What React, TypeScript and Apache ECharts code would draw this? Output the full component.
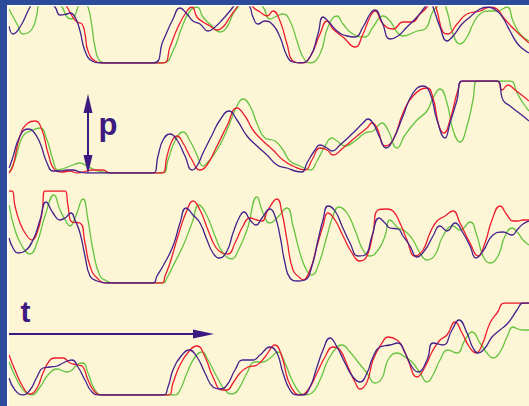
import React, { useEffect, useRef } from "react";
import * as echarts from "echarts";

// Each point: [time, pressure]; rows are four separate recordings.
const row1Purple = [[9,37],[13,29],[20,36],[30,56],[40,72],[55,56],[60,48],[67,49],[70,50],[75,46],[80,32],[85,12],[92,2],[100,0],[153,0],[163,22],[173,44],[180,55],[187,49],[193,42],[200,39],[208,32],[215,36],[223,44],[233,56],[242,70],[250,56],[253,46],[258,39],[265,42],[273,38],[280,26],[287,7],[293,1],[300,0],[310,6],[318,29],[323,46],[328,42],[337,32],[347,27],[355,26],[363,36],[370,49],[375,53],[382,41],[390,24],[398,27],[407,36],[417,46],[425,56],[430,62],[433,56],[440,36],[447,22],[453,27],[462,39],[470,46],[480,54],[488,56],[497,52],[503,45],[510,32],[517,20],[523,14],[529,10]];
const row1Red = [[9,66],[25,85],[45,80],[60,65],[67,56],[72,47],[77,41],[82,39],[85,29],[88,12],[95,2],[103,0],[163,0],[170,16],[178,36],[187,52],[192,56],[197,46],[203,41],[210,37],[217,33],[223,36],[230,46],[237,56],[245,68],[253,56],[260,51],[267,47],[273,52],[280,42],[287,19],[293,2],[302,0],[310,6],[320,29],[327,42],[333,34],[343,26],[355,16],[363,29],[370,46],[375,52],[383,39],[393,34],[403,41],[412,41],[420,49],[427,56],[432,65],[437,52],[443,31],[448,29],[457,39],[467,49],[480,52],[490,56],[497,54],[503,46],[510,38],[518,30],[529,20]];
const row1Green = [[9,54],[17,39],[23,29],[32,34],[37,49],[38,56],[48,72],[62,56],[67,46],[72,44],[76,50],[78,56],[83,62],[88,56],[92,36],[95,16],[100,2],[107,0],[163,0],[173,12],[182,36],[190,52],[197,56],[203,46],[210,39],[220,31],[227,36],[233,49],[238,56],[250,68],[263,56],[270,44],[277,47],[283,49],[290,42],[297,22],[303,6],[310,0],[320,9],[328,36],[337,47],[343,39],[353,29],[365,26],[373,36],[383,47],[390,42],[397,31],[403,27],[417,32],[425,34],[433,52],[437,56],[442,62],[447,52],[453,29],[460,19],[467,26],[473,39],[480,49],[490,52],[497,52],[507,56],[513,42],[520,29],[529,22]];

const row2Purple = [[9,5],[12,13],[20,37],[28,44],[33,42],[40,30],[47,10],[53,2],[60,2],[67,3],[73,3],[80,1],[87,0],[153,0],[158,17],[163,33],[170,39],[177,33],[185,17],[192,3],[197,7],[203,20],[213,40],[220,53],[229,62],[237,53],[247,37],[257,27],[267,18],[277,8],[287,5],[295,2],[302,1],[307,10],[315,23],[320,28],[327,25],[332,22],[340,28],[353,40],[363,50],[368,54],[373,50],[380,35],[386,25],[393,33],[403,57],[413,80],[423,87],[430,80],[437,53],[445,35],[450,50],[457,73],[462,92],[497,92],[503,73],[510,67],[523,57],[529,52]];
const row2Red = [[9,0],[13,7],[20,37],[28,50],[35,52],[42,43],[48,20],[55,3],[62,1],[70,2],[77,0],[93,3],[103,3],[110,0],[162,0],[167,17],[172,32],[177,37],[183,30],[192,13],[200,3],[207,8],[217,27],[227,47],[237,65],[245,57],[253,43],[263,32],[273,23],[283,13],[293,7],[305,3],[312,13],[320,25],[327,23],[333,18],[343,25],[357,37],[367,45],[372,50],[377,45],[385,27],[393,33],[403,60],[413,77],[427,85],[433,75],[439,47],[444,40],[450,53],[458,83],[463,92],[497,92],[502,83],[508,88],[515,83],[523,77],[529,72]];
const row2Green = [[9,0],[15,13],[23,37],[33,43],[40,45],[47,33],[53,13],[58,3],[65,5],[73,8],[80,10],[87,7],[95,3],[103,1],[110,0],[163,0],[168,13],[175,32],[183,41],[190,32],[197,18],[203,7],[207,10],[217,23],[227,43],[237,67],[243,74],[250,67],[258,47],[265,35],[275,32],[283,23],[290,12],[300,7],[310,3],[317,12],[325,27],[332,35],[337,32],[345,27],[355,32],[365,40],[373,42],[382,50],[388,43],[397,25],[405,38],[417,53],[427,62],[433,75],[440,84],[447,70],[453,43],[460,31],[467,47],[473,73],[477,92],[510,92],[517,80],[523,70],[529,62]];

const row3Purple = [[9,45],[13,35],[18,30],[25,32],[33,43],[40,63],[46,81],[53,70],[60,63],[65,65],[71,70],[75,63],[80,50],[85,27],[90,7],[97,2],[107,0],[153,0],[157,7],[163,17],[173,37],[180,60],[186,75],[193,68],[200,60],[207,43],[213,30],[219,25],[227,32],[233,50],[240,67],[244,71],[250,63],[256,58],[262,65],[270,74],[275,67],[280,47],[285,20],[290,5],[298,2],[305,3],[312,17],[318,43],[323,63],[328,77],[335,72],[342,57],[350,40],[358,27],[365,28],[372,47],[379,65],[385,60],[390,55],[398,54],[403,47],[410,37],[417,26],[425,33],[433,47],[440,57],[447,52],[455,60],[463,50],[470,37],[476,25],[483,32],[493,48],[503,51],[512,48],[517,53],[523,59],[529,62]];
const row3Red = [[9,92],[12,92],[15,77],[20,60],[27,47],[32,43],[37,50],[42,70],[45,92],[65,92],[68,77],[72,61],[80,60],[85,40],[90,17],[97,5],[107,0],[162,0],[165,7],[170,20],[178,47],[187,73],[193,82],[200,73],[208,53],[215,37],[222,30],[228,29],[235,40],[243,57],[250,65],[257,63],[262,62],[268,73],[277,84],[282,70],[287,43],[293,13],[300,5],[303,3],[310,13],[317,37],[323,57],[328,70],[335,63],[343,47],[352,30],[360,22],[367,27],[373,50],[378,73],[387,74],[393,72],[400,60],[407,43],[415,27],[423,33],[430,50],[437,62],[445,67],[453,72],[460,60],[470,40],[478,27],[485,40],[492,63],[500,77],[507,68],[513,62],[518,62],[523,63],[529,63]];
const row3Green = [[9,78],[15,53],[22,37],[30,29],[37,40],[45,67],[54,88],[60,73],[67,60],[70,57],[75,65],[83,84],[88,63],[93,33],[100,7],[107,2],[113,0],[163,0],[167,5],[173,17],[183,37],[192,60],[199,78],[207,67],[215,47],[223,30],[232,24],[238,32],[247,53],[257,86],[263,70],[270,60],[277,65],[287,75],[293,57],[300,30],[307,12],[312,8],[318,17],[327,47],[333,67],[339,76],[347,70],[355,53],[363,33],[370,27],[378,33],[385,47],[390,63],[398,55],[405,52],[413,43],[420,30],[427,23],[435,28],[443,47],[453,57],[460,53],[470,61],[477,47],[483,27],[490,20],[498,27],[505,47],[512,55],[518,50],[523,43],[529,38]];

const row4Purple = [[9,17],[15,5],[23,0],[30,5],[37,18],[43,27],[50,28],[57,29],[63,32],[72,35],[78,28],[85,15],[92,3],[100,0],[163,0],[168,8],[173,25],[182,40],[189,45],[197,38],[205,22],[213,8],[220,6],[227,10],[235,25],[243,35],[253,35],[260,40],[270,48],[277,42],[283,22],[290,5],[297,0],[303,0],[310,8],[317,28],[323,45],[330,57],[337,48],[345,32],[353,18],[360,13],[367,22],[373,38],[380,48],[390,50],[398,52],[405,42],[412,28],[418,23],[427,35],[433,52],[443,50],[452,65],[459,75],[467,62],[473,47],[478,42],[485,47],[492,58],[500,65],[508,72],[517,85],[523,92],[529,92]];
const row4Red = [[9,40],[15,25],[23,8],[30,1],[37,7],[43,22],[50,35],[55,37],[63,37],[70,32],[78,30],[83,28],[88,15],[95,3],[103,0],[168,0],[173,12],[180,30],[190,45],[197,49],[205,38],[213,18],[222,5],[227,5],[233,12],[240,22],[248,28],[257,30],[265,38],[275,50],[282,38],[288,15],[295,2],[300,0],[308,5],[317,22],[325,38],[333,48],[340,45],[348,28],[355,13],[360,6],[367,13],[373,35],[382,52],[388,58],[397,55],[403,47],[408,35],[417,18],[425,28],[432,43],[440,55],[447,60],[455,73],[462,62],[470,47],[476,42],[482,50],[490,72],[497,82],[505,92],[529,92]];
const row4Green = [[9,33],[17,15],[25,3],[32,0],[40,8],[48,20],[57,26],[67,23],[72,25],[78,31],[83,32],[88,22],[95,5],[102,0],[110,0],[175,0],[180,5],[187,22],[195,38],[202,43],[208,35],[217,18],[225,5],[232,1],[238,5],[247,22],[255,33],[263,33],[270,37],[278,43],[285,32],[292,15],[300,2],[305,0],[312,2],[320,15],[328,35],[337,48],[342,50],[350,43],[358,33],[367,22],[375,12],[382,17],[388,35],[397,42],[405,38],[412,33],[420,22],[427,13],[433,20],[440,35],[448,45],[457,42],[465,55],[472,63],[480,52],[487,42],[493,37],[500,43],[507,58],[513,68],[518,66],[523,65],[529,65]];

const PURPLE = "#44218c";
const RED = "#ec1c2e";
const GREEN = "#66c340";
const INK = "#3c1a80";
const FRAME = "#2d4b9b";
const BG = "#fdf6d6";

export default function App() {
  const ref = useRef<HTMLDivElement>(null);
  useEffect(() => {
    const chart = echarts.init(ref.current!, undefined, { renderer: "svg" });
    const rows = [
      { top: 6, height: 57, max: 57, data: [row1Green, row1Red, row1Purple] },
      { top: 81, height: 92, max: 92, data: [row2Green, row2Red, row2Purple] },
      { top: 191, height: 92, max: 92, data: [row3Green, row3Red, row3Purple] },
      { top: 303, height: 92, max: 92, data: [row4Green, row4Red, row4Purple] },
    ];
    const colors = [GREEN, RED, PURPLE];
    const series: any[] = [];
    rows.forEach((r, i) => {
      r.data.forEach((d, j) => {
        series.push({
          type: "line",
          xAxisIndex: i,
          yAxisIndex: i,
          data: d,
          smooth: 0.5,
          symbol: "none",
          clip: true,
          lineStyle: { color: colors[j], width: 1.3 },
          z: 2 + j,
        });
      });
    });
    chart.setOption({
      animation: false,
      backgroundColor: BG,
      grid: rows.map((r) => ({ left: 0, right: 0, top: r.top, height: r.height })),
      xAxis: rows.map((_, i) => ({ type: "value", gridIndex: i, min: 0, max: 529, show: false })),
      yAxis: rows.map((r, i) => ({ type: "value", gridIndex: i, min: 0, max: r.max, show: false })),
      series,
      graphic: [
        { type: "rect", z: 100, shape: { x: 0, y: 0, width: 7, height: 406 }, style: { fill: FRAME } },
        { type: "rect", z: 100, shape: { x: 0, y: 0, width: 529, height: 5 }, style: { fill: FRAME } },
        { type: "rect", z: 100, shape: { x: 7, y: 5, width: 1.5, height: 401 }, style: { fill: "#ffffff" } },
        { type: "rect", z: 100, shape: { x: 7, y: 5, width: 522, height: 1.3 }, style: { fill: "#ffffff" } },
        { type: "line", z: 100, shape: { x1: 88, y1: 110, x2: 88, y2: 158 }, style: { stroke: INK, lineWidth: 2 } },
        { type: "polygon", z: 100, shape: { points: [[88, 94], [83.5, 113], [92.5, 113]] }, style: { fill: INK } },
        { type: "polygon", z: 100, shape: { points: [[88, 174], [83.5, 155], [92.5, 155]] }, style: { fill: INK } },
        { type: "line", z: 100, shape: { x1: 9, y1: 334, x2: 198, y2: 334 }, style: { stroke: INK, lineWidth: 2 } },
        { type: "polygon", z: 100, shape: { points: [[214, 334], [193, 329.5], [193, 338.5]] }, style: { fill: INK } },
        {
          type: "text", z: 100, x: 98.5, y: 124.5,
          style: { text: "p", fill: INK, font: "bold 31px 'Liberation Sans', Arial, sans-serif", align: "left", verticalAlign: "middle" },
        },
        {
          type: "text", z: 100, x: 20.5, y: 311,
          style: { text: "t", fill: INK, font: "bold 30px 'Liberation Sans', Arial, sans-serif", align: "left", verticalAlign: "middle" },
        },
      ],
    });
    return () => chart.dispose();
  }, []);
  return <div ref={ref} style={{ position: "fixed", left: 0, top: 0, width: 529, height: 406 }} />;
}
